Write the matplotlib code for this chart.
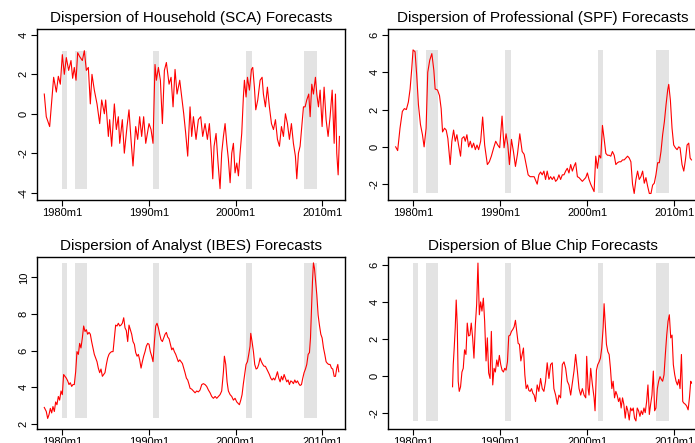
import matplotlib.pyplot as plt

plt.rcParams['font.family'] = ['Liberation Sans', 'DejaVu Sans']
plt.rcParams['axes.unicode_minus'] = False

# recession periods (start, end) in decimal years
recessions = [(1980.0, 1980.5), (1981.5, 1982.83), (1990.5, 1991.17),
              (2001.17, 2001.83), (2007.92, 2009.42)]

tick_years = [1980, 1990, 2000, 2010]
tick_labels = ["1980m1", "1990m1", "2000m1", "2010m1"]

# Household (SCA)
sca_year = [1977.92, 1978.15, 1978.54, 1978.81, 1979.0, 1979.31, 1979.54, 1979.77,
            1980.0, 1980.23, 1980.46, 1980.73, 1981.0, 1981.19, 1981.38, 1981.58,
            1981.77, 1982.0, 1982.31, 1982.54, 1982.77, 1983.0, 1983.23, 1983.42,
            1983.69, 1984.0, 1984.31, 1984.54, 1984.85, 1985.0, 1985.31, 1985.46,
            1985.69, 1986.0, 1986.23, 1986.46, 1986.62, 1986.92, 1987.15, 1987.46,
            1987.69, 1987.92, 1988.15, 1988.46, 1988.69, 1988.92, 1989.15, 1989.38,
            1989.62, 1990.0, 1990.23, 1990.46, 1990.69, 1990.85, 1991.08, 1991.31,
            1991.54, 1991.77, 1992.0, 1992.31, 1992.54, 1992.77, 1993.0, 1993.23,
            1993.54, 1993.77, 1994.0, 1994.23, 1994.46, 1994.73, 1994.92, 1995.12,
            1995.42, 1995.69, 1995.96, 1996.19, 1996.46, 1996.73, 1996.96, 1997.19,
            1997.35, 1997.5, 1997.73, 1997.96, 1998.19, 1998.38, 1998.58, 1998.77,
            1998.96, 1999.15, 1999.35, 1999.54, 1999.73, 1999.92, 2000.12, 2000.31,
            2000.5, 2000.69, 2000.88, 2001.0, 2001.19, 2001.35, 2001.58, 2001.81,
            2001.96, 2002.15, 2002.31, 2002.54, 2002.81, 2003.04, 2003.19, 2003.42,
            2003.65, 2003.88, 2004.12, 2004.35, 2004.58, 2004.81, 2005.04, 2005.27,
            2005.5, 2005.73, 2005.96, 2006.19, 2006.42, 2006.65, 2006.88, 2007.04,
            2007.23, 2007.42, 2007.62, 2007.81, 2008.0, 2008.19, 2008.42, 2008.58,
            2008.77, 2008.96, 2009.19, 2009.35, 2009.54, 2009.73, 2009.96, 2010.19,
            2010.42, 2010.65, 2010.88, 2011.12, 2011.35, 2011.5, 2011.65, 2011.81,
            2011.96]
sca_val = [1.0, -0.15, -0.65, 0.85, 1.85, 1.1, 1.9, 1.5,
           3.0, 2.0, 2.85, 2.2, 2.7, 1.8, 2.35, 1.7,
           3.1, 2.9, 2.7, 3.2, 2.2, 2.35, 0.5, 2.0,
           1.2, 0.5, -0.5, 0.7, 0.0, 0.7, -1.15, -0.3,
           -1.65, 0.5, -0.8, -0.15, -1.5, -0.3, -2.0, -0.65,
           0.2, -1.3, -2.65, -0.65, -1.3, -0.15, -1.15, -0.15,
           -1.5, -0.5, -0.8, -1.5, 2.5, 1.7, 2.35, 1.7,
           -0.5, 2.2, 2.6, 1.5, 1.85, 0.35, 2.25, 1.0,
           1.7, 0.85, 0.0, -1.0, -2.15, 0.35, -1.15, -0.15,
           -1.3, -0.3, -0.15, -1.15, -0.5, -1.3, -0.5, -2.0,
           -3.3, -1.65, -1.0, -2.5, -3.8, -2.0, -1.15, -0.5,
           -1.5, -2.3, -3.5, -2.0, -1.5, -3.0, -2.5, -3.15,
           -2.0, -1.0, 0.85, 1.7, 0.85, 1.85, 1.2, 2.25,
           2.35, 1.35, 0.2, 0.7, 1.7, 1.85, 1.0, 0.35,
           1.35, 0.35, -0.5, -0.8, -0.3, -1.3, -1.65, -0.65,
           -1.15, 0.0, -0.5, -1.3, -0.5, -1.5, -2.15, -3.3,
           -2.0, -1.65, -0.65, 0.35, 0.35, 0.7, 1.0, -0.15,
           1.5, 1.0, 1.85, 1.0, 0.35, 1.2, -0.65, 1.35,
           -0.3, -1.15, -0.15, 1.2, -1.5, 1.0, -2.0, -3.1,
           -1.15]

# Professional (SPF)
spf_year = [1977.96, 1978.19, 1978.46, 1978.73, 1978.96, 1979.19, 1979.42, 1979.62,
            1979.81, 1979.96, 1980.19, 1980.38, 1980.58, 1980.81, 1981.04, 1981.23,
            1981.46, 1981.65, 1981.88, 1982.12, 1982.35, 1982.5, 1982.77, 1983.0,
            1983.19, 1983.35, 1983.58, 1983.77, 1983.96, 1984.23, 1984.42, 1984.62,
            1984.81, 1985.0, 1985.19, 1985.42, 1985.58, 1985.81, 1985.96, 1986.15,
            1986.35, 1986.54, 1986.73, 1986.92, 1987.12, 1987.31, 1987.5, 1987.73,
            1987.96, 1988.19, 1988.5, 1988.73, 1988.96, 1989.23, 1989.46, 1989.69,
            1989.92, 1990.19, 1990.42, 1990.65, 1990.85, 1991.04, 1991.27, 1991.5,
            1991.73, 1991.96, 1992.23, 1992.5, 1992.73, 1992.96, 1993.19, 1993.42,
            1993.65, 1993.88, 1994.23, 1994.42, 1994.62, 1994.81, 1995.0, 1995.19,
            1995.38, 1995.58, 1995.77, 1995.96, 1996.15, 1996.35, 1996.54, 1996.73,
            1996.92, 1997.12, 1997.31, 1997.5, 1997.69, 1997.88, 1998.08, 1998.27,
            1998.46, 1998.65, 1998.85, 1999.04, 1999.23, 1999.42, 1999.62, 1999.81,
            2000.0, 2000.19, 2000.38, 2000.58, 2000.77, 2000.96, 2001.15, 2001.35,
            2001.54, 2001.73, 2001.92, 2002.12, 2002.31, 2002.5, 2002.69, 2002.88,
            2003.08, 2003.27, 2003.46, 2003.65, 2003.85, 2004.04, 2004.23, 2004.42,
            2004.62, 2004.81, 2005.0, 2005.19, 2005.38, 2005.58, 2005.77, 2005.96,
            2006.15, 2006.35, 2006.54, 2006.73, 2006.92, 2007.12, 2007.31, 2007.5,
            2007.69, 2007.88, 2008.08, 2008.27, 2008.46, 2008.65, 2008.85, 2009.04,
            2009.23, 2009.35, 2009.54, 2009.73, 2009.92, 2010.12, 2010.31, 2010.5,
            2010.65, 2010.88, 2011.08, 2011.27, 2011.46, 2011.65, 2011.81, 2011.96]
spf_val = [0.0, -0.2, 1.0, 1.9, 2.05, 2.0, 2.4, 3.1,
           4.2, 5.2, 5.1, 3.85, 2.25, 1.2, 0.65, 0.0,
           1.0, 4.0, 4.65, 5.0, 4.1, 3.1, 3.05, 2.75,
           2.05, 0.8, 1.0, 0.9, 0.45, -0.95, 0.3, 0.9,
           0.3, 0.65, 0.1, -0.5, 0.45, 0.55, 0.3, 0.65,
           0.0, 0.3, -0.05, 0.2, -0.15, 0.1, -0.15, 0.3,
           1.6, 0.1, -0.95, -0.8, -0.5, -0.05, 0.3, 0.1,
           -0.05, 1.65, -0.05, 0.7, 0.1, -0.95, 0.4, -0.25,
           -1.05, -0.4, 0.7, -0.25, -0.4, -0.95, -1.5, -1.6,
           -1.6, -1.6, -2.0, -1.5, -1.35, -1.5, -1.3, -1.75,
           -1.3, -1.75, -1.6, -1.75, -1.6, -1.85, -1.75, -1.5,
           -1.75, -1.5, -1.5, -1.3, -1.15, -1.4, -0.95, -1.3,
           -1.05, -0.85, -1.6, -1.65, -1.75, -1.85, -1.75, -1.65,
           -1.4, -1.75, -2.0, -2.2, -2.4, -0.5, -1.15, -0.45,
           -0.6, 1.15, 0.45, -0.35, -0.45, -0.45, -0.5, -0.25,
           -0.45, -0.95, -0.85, -0.8, -0.8, -0.7, -0.7, -0.6,
           -0.5, -0.6, -0.8, -2.0, -2.5, -1.75, -1.3, -1.75,
           -1.6, -1.3, -1.95, -1.65, -2.1, -2.5, -2.5, -2.05,
           -1.95, -1.5, -0.85, -0.85, -0.25, 0.65, 1.35, 2.25,
           3.05, 3.35, 2.5, 1.0, 0.1, -0.05, -0.15, 0.0,
           -0.05, -0.95, -1.3, -0.7, 0.1, 0.2, -0.6, -0.7]

# Analyst (IBES)
ibes_year = [1977.92, 1978.15, 1978.31, 1978.46, 1978.62, 1978.77, 1978.92, 1979.08,
             1979.23, 1979.38, 1979.54, 1979.69, 1979.85, 1980.0, 1980.15, 1980.31,
             1980.46, 1980.62, 1980.77, 1980.92, 1981.08, 1981.23, 1981.38, 1981.54,
             1981.69, 1981.85, 1982.0, 1982.15, 1982.31, 1982.46, 1982.62, 1982.77,
             1982.92, 1983.08, 1983.23, 1983.38, 1983.54, 1983.69, 1983.85, 1984.0,
             1984.15, 1984.31, 1984.46, 1984.62, 1984.77, 1984.92, 1985.08, 1985.23,
             1985.38, 1985.54, 1985.69, 1985.85, 1986.0, 1986.15, 1986.31, 1986.46,
             1986.62, 1986.77, 1986.92, 1987.08, 1987.23, 1987.38, 1987.54, 1987.69,
             1987.85, 1988.0, 1988.15, 1988.31, 1988.46, 1988.62, 1988.77, 1988.92,
             1989.08, 1989.23, 1989.38, 1989.54, 1989.69, 1989.85, 1990.0, 1990.15,
             1990.31, 1990.46, 1990.62, 1990.77, 1990.92, 1991.08, 1991.23, 1991.38,
             1991.54, 1991.69, 1991.85, 1992.0, 1992.15, 1992.31, 1992.46, 1992.62,
             1992.77, 1992.92, 1993.08, 1993.23, 1993.38, 1993.54, 1993.69, 1993.85,
             1994.0, 1994.15, 1994.31, 1994.46, 1994.62, 1994.73, 1994.92, 1995.12,
             1995.31, 1995.5, 1995.69, 1995.88, 1996.08, 1996.27, 1996.46, 1996.65,
             1996.85, 1997.04, 1997.23, 1997.42, 1997.62, 1997.81, 1998.0, 1998.19,
             1998.38, 1998.58, 1998.69, 1998.85, 1999.0, 1999.15, 1999.35, 1999.54,
             1999.73, 1999.92, 2000.12, 2000.31, 2000.42, 2000.58, 2000.73, 2000.88,
             2001.04, 2001.19, 2001.35, 2001.5, 2001.65, 2001.73, 2001.88, 2002.04,
             2002.19, 2002.35, 2002.5, 2002.65, 2002.81, 2002.96, 2003.12, 2003.27,
             2003.42, 2003.58, 2003.73, 2003.88, 2004.04, 2004.19, 2004.35, 2004.5,
             2004.65, 2004.81, 2004.96, 2005.12, 2005.27, 2005.42, 2005.58, 2005.73,
             2005.88, 2006.04, 2006.19, 2006.35, 2006.5, 2006.65, 2006.81, 2006.96,
             2007.12, 2007.27, 2007.42, 2007.58, 2007.73, 2007.88, 2008.04, 2008.19,
             2008.35, 2008.5, 2008.62, 2008.73, 2008.85, 2008.96, 2009.08, 2009.19,
             2009.35, 2009.5, 2009.65, 2009.81, 2009.96, 2010.12, 2010.27, 2010.42,
             2010.58, 2010.73, 2010.88, 2011.04, 2011.19, 2011.35, 2011.5, 2011.65,
             2011.77, 2011.88]
ibes_val = [2.9, 2.68, 2.3, 2.5, 2.85, 2.6, 2.95, 2.68,
            3.2, 3.05, 3.5, 3.3, 3.8, 3.6, 4.7, 4.6,
            4.5, 4.35, 4.15, 4.25, 4.05, 4.15, 4.15, 4.85,
            5.95, 5.8, 6.4, 6.15, 6.7, 7.35, 7.05, 7.15,
            6.9, 7.0, 6.9, 6.5, 6.15, 5.8, 5.6, 5.4,
            5.05, 4.8, 5.0, 4.6, 4.7, 4.8, 5.25, 5.6,
            5.8, 5.9, 5.95, 5.95, 6.7, 7.4, 7.35, 7.5,
            7.35, 7.4, 7.5, 7.8, 7.25, 7.1, 6.5, 7.4,
            7.15, 6.9, 6.5, 6.35, 5.9, 5.7, 5.8, 5.5,
            5.05, 5.4, 5.7, 5.95, 6.25, 6.4, 6.35, 5.95,
            5.7, 5.4, 6.5, 7.35, 7.5, 7.25, 6.9, 6.6,
            6.5, 6.7, 6.9, 7.0, 6.75, 6.65, 6.35, 6.05,
            6.15, 5.95, 5.8, 5.6, 5.4, 5.5, 5.4, 5.3,
            5.05, 4.8, 4.5, 4.4, 4.15, 3.95, 3.9, 3.8,
            3.7, 3.8, 3.75, 3.85, 4.15, 4.2, 4.15, 4.05,
            3.85, 3.7, 3.5, 3.4, 3.5, 3.4, 3.5, 3.6,
            3.8, 4.85, 5.7, 5.25, 4.3, 3.8, 3.6, 3.5,
            3.3, 3.4, 3.2, 3.1, 3.05, 3.3, 3.6, 4.2,
            4.75, 5.25, 5.4, 5.8, 6.25, 6.95, 6.5, 5.95,
            5.25, 5.0, 5.05, 5.25, 5.6, 5.4, 5.25, 5.15,
            5.15, 5.0, 4.85, 4.7, 4.5, 4.4, 4.5, 4.4,
            4.6, 4.85, 4.5, 4.3, 4.6, 4.4, 4.7, 4.5,
            4.3, 4.4, 4.15, 4.35, 4.3, 4.2, 4.4, 4.25,
            4.35, 4.2, 4.1, 4.15, 4.5, 4.8, 5.0, 5.25,
            5.8, 5.9, 6.7, 8.15, 9.8, 10.8, 10.5, 9.9,
            9.05, 7.95, 7.4, 6.9, 6.7, 6.15, 5.8, 5.4,
            5.3, 5.25, 5.25, 5.05, 5.0, 4.6, 4.6, 5.05,
            5.25, 4.85]

# Blue Chip
bc_year = [1984.5, 1984.58, 1984.69, 1984.81, 1984.92, 1985.04, 1985.15, 1985.27,
           1985.42, 1985.58, 1985.73, 1985.88, 1986.04, 1986.19, 1986.35, 1986.5,
           1986.65, 1986.81, 1986.96, 1987.12, 1987.27, 1987.42, 1987.58, 1987.73,
           1987.88, 1988.04, 1988.19, 1988.35, 1988.5, 1988.65, 1988.81, 1988.96,
           1989.12, 1989.27, 1989.42, 1989.58, 1989.73, 1989.88, 1990.04, 1990.19,
           1990.35, 1990.5, 1990.65, 1990.81, 1990.96, 1991.12, 1991.27, 1991.42,
           1991.58, 1991.73, 1991.88, 1992.04, 1992.19, 1992.35, 1992.5, 1992.65,
           1992.81, 1992.96, 1993.12, 1993.27, 1993.42, 1993.58, 1993.73, 1993.88,
           1994.04, 1994.23, 1994.42, 1994.62, 1994.81, 1995.0, 1995.19, 1995.38,
           1995.58, 1995.77, 1995.96, 1996.15, 1996.35, 1996.54, 1996.73, 1996.92,
           1997.12, 1997.31, 1997.5, 1997.69, 1997.88, 1998.08, 1998.27, 1998.46,
           1998.65, 1998.85, 1999.04, 1999.23, 1999.42, 1999.62, 1999.81, 1999.92,
           2000.08, 2000.19, 2000.38, 2000.58, 2000.77, 2000.88, 2001.04, 2001.19,
           2001.35, 2001.5, 2001.65, 2001.81, 2001.92, 2002.04, 2002.19, 2002.35,
           2002.5, 2002.65, 2002.81, 2002.96, 2003.12, 2003.27, 2003.42, 2003.58,
           2003.73, 2003.88, 2004.04, 2004.19, 2004.35, 2004.5, 2004.65, 2004.81,
           2004.96, 2005.12, 2005.27, 2005.42, 2005.58, 2005.73, 2005.88, 2006.04,
           2006.19, 2006.35, 2006.5, 2006.65, 2006.81, 2006.96, 2007.12, 2007.27,
           2007.42, 2007.58, 2007.73, 2007.88, 2008.04, 2008.19, 2008.35, 2008.5,
           2008.65, 2008.81, 2008.96, 2009.12, 2009.27, 2009.42, 2009.58, 2009.73,
           2009.88, 2010.04, 2010.19, 2010.35, 2010.5, 2010.65, 2010.81, 2010.96,
           2011.12, 2011.27, 2011.42, 2011.58, 2011.73, 2011.88, 2011.96]
bc_val = [-0.6, 0.6, 1.5, 2.6, 4.1, 2.75, -0.3, -0.85,
          -0.6, 0.2, 0.4, 1.4, 1.15, 2.85, 2.15, 2.2,
          2.85, 2.05, 0.95, 2.75, 3.85, 6.1, 3.3, 4.0,
          3.5, 4.2, 2.95, 0.8, 2.05, 0.15, -0.15, 2.4,
          -0.5, 0.4, 0.2, 0.85, 0.5, 1.1, 0.6, 0.3,
          0.2, 0.4, 0.3, 0.75, 2.15, 2.2, 2.4, 2.5,
          2.65, 3.0, 2.4, 1.75, 1.7, 0.8, 1.15, 1.5,
          0.05, -0.7, -0.5, -0.8, -0.85, -0.7, -0.95, -1.05,
          -1.4, -0.5, -0.85, -0.15, -0.7, -0.85, -0.3, 0.7,
          -0.15, 0.6, 0.7, -0.7, -1.05, -1.55, -1.05, -1.2,
          0.6, 0.75, 0.4, -0.3, -0.5, -1.05, -0.4, 0.25,
          1.15, 0.25, -0.7, -1.05, -0.7, -1.05, -1.2, 1.05,
          -0.7, -1.05, 0.4, -0.5, -1.2, -1.9, 0.3, 0.6,
          0.75, 0.95, 1.5, 2.6, 3.9, 2.95, 1.7, 1.3,
          1.15, 0.4, -0.7, -0.3, -1.2, -0.85, -1.05, -1.4,
          -1.2, -1.75, -1.2, -1.55, -2.3, -1.65, -1.9, -2.4,
          -1.75, -1.9, -1.75, -2.3, -2.45, -1.75, -1.9, -2.2,
          -1.9, -2.1, -1.75, -2.0, -1.4, -0.5, -2.1, -1.55,
          -1.05, 0.25, -1.9, -1.75, -0.7, -0.3, -0.05, -0.2,
          -0.3, 0.05, 1.15, 2.2, 2.95, 3.3, 2.05, 2.2,
          0.6, 0.05, -0.3, -0.5, -0.2, -0.7, 1.15, -1.4,
          -1.5, -1.55, -1.65, -1.85, -1.2, -0.3, -0.4]

W, H = 695, 443
fig = plt.figure(figsize=(W / 100, H / 100), dpi=100)

# (title, x, y, [left, top, width, height] in pixels, ylim, yticks)
panels = [
    ("Dispersion of Household (SCA) Forecasts", sca_year, sca_val,
     [37, 29, 308, 170.5], (-4.35, 4.3), [-4, -2, 0, 2, 4]),
    ("Dispersion of Professional (SPF) Forecasts", spf_year, spf_val,
     [388, 29, 309, 171], (-2.85, 6.32), [-2, 0, 2, 4, 6]),
    ("Dispersion of Analyst (IBES) Forecasts", ibes_year, ibes_val,
     [37, 257, 308, 171.5], (1.75, 11.12), [2, 4, 6, 8, 10]),
    ("Dispersion of Blue Chip Forecasts", bc_year, bc_val,
     [388, 257, 309, 171.5], (-2.86, 6.43), [-2, 0, 2, 4, 6]),
]

for title, xs, ys, box, ylim, yticks in panels:
    left, top, w, h = box
    ax = fig.add_axes([left / W, 1 - (top + h) / H, w / W, h / H])
    lo, hi = min(ys), max(ys)
    for a, b in recessions:
        ax.fill_between([a, b], lo, hi, color='#e3e3e3', lw=0, zorder=1)
    ax.plot(xs, ys, color='red', lw=0.8, zorder=3)
    ax.set_xlim(1977.08, 2012.6)
    ax.set_ylim(*ylim)
    ax.set_xticks(tick_years)
    ax.set_xticklabels(tick_labels)
    ax.set_yticks(yticks)
    ax.set_yticklabels([str(v) for v in yticks], rotation=90, va='center')
    ax.tick_params(labelsize=8, length=4, width=0.8, pad=2)
    for s in ax.spines.values():
        s.set_linewidth(1.0)
    ax.set_title(title, fontsize=11, pad=5)

fig.savefig("out.png", dpi=100)
